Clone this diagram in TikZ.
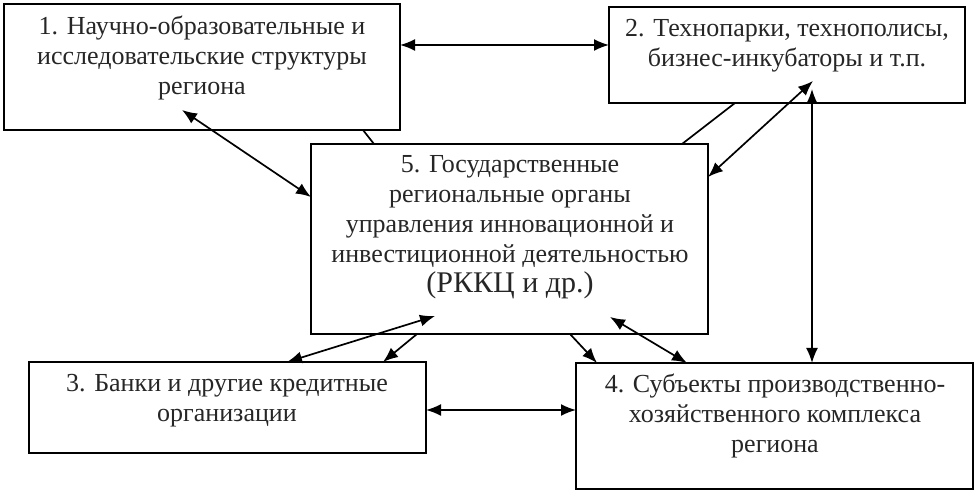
\documentclass[tikz,border=0pt]{standalone}
\usepackage{fontspec}
\setmainfont{Liberation Serif}
\usetikzlibrary{arrows.meta}
\begin{document}
\begin{tikzpicture}[x=1pt,y=-1pt,
  box/.style={draw, line width=1.8pt, inner sep=0pt, outer sep=0pt},
  txt/.style={align=center, inner sep=0pt, anchor=base, text=black!85, font=\fontsize{26}{30}\selectfont},
  conn/.style={line width=1.7pt},
  dbl/.style={conn, {Latex[length=15pt,width=12pt]}-{Latex[length=15pt,width=12pt]}},
  sgl/.style={conn, -{Latex[length=15pt,width=12pt]}}]
\useasboundingbox (0,0) rectangle (978,494);
\fill[white] (0,0) rectangle (978,494);
% boxes
\node[box, minimum width=396pt, minimum height=126pt] (b1) at (202,67) {};
\node[box, minimum width=356pt, minimum height=96pt] (b2) at (787,55) {};
\node[box, minimum width=397pt, minimum height=190pt] (b5) at (509.5,239) {};
\node[box, minimum width=397pt, minimum height=91pt] (b3) at (227.5,407.5) {};
\node[box, minimum width=397pt, minimum height=126pt] (b4) at (774.5,426) {};
% texts (anchored at the baseline of their last line)
\node[txt] (t1) at (202,95) {1. Научно-образовательные и\\исследовательские структуры\\региона};
\node[txt] (t2) at (787,67) {2. Технопарки, технополисы,\\бизнес-инкубаторы и т.п.};
\node[txt] (t5) at (510,263) {5. Государственные\\региональные органы\\управления инновационной и\\инвестиционной деятельностью};
\node[txt, font=\fontsize{30}{30}\selectfont] (t5b) at (510,293) {(РККЦ и др.)};
\node[txt] (t3) at (227,422) {3. Банки и другие кредитные\\организации};
\node[txt] (t4) at (775,453) {4. Субъекты производственно-\\хозяйственного комплекса\\региона};
% connector end points
\coordinate (p12a) at (400,45);
\coordinate (p12b) at (609,45);
\coordinate (p15a) at (182,110);
\coordinate (p15b) at (311,197);
\coordinate (q15a) at (363,130);
\coordinate (q15b) at (374,144);
\coordinate (q25a) at (735,103);
\coordinate (q25b) at (682,144);
\coordinate (p25a) at (813,81);
\coordinate (p25b) at (708,177);
\coordinate (p24a) at (812,89);
\coordinate (p24b) at (812,363);
\coordinate (p35a) at (435,316);
\coordinate (p35b) at (287,362);
\coordinate (q35a) at (417,334);
\coordinate (q35b) at (383,362);
\coordinate (q45a) at (570,334);
\coordinate (q45b) at (597,363);
\coordinate (p45a) at (610,317);
\coordinate (p45b) at (687,363);
\coordinate (p34a) at (426,410);
\coordinate (p34b) at (576,410);
% connectors
\draw[dbl] (p12a) -- (p12b);
\draw[dbl] (p15a) -- (p15b);
\draw[conn] (q15a) -- (q15b);
\draw[conn] (q25a) -- (q25b);
\draw[dbl] (p25a) -- (p25b);
\draw[dbl] (p24a) -- (p24b);
\draw[dbl] (p35a) -- (p35b);
\draw[sgl] (q35a) -- (q35b);
\draw[sgl] (q45a) -- (q45b);
\draw[dbl] (p45a) -- (p45b);
\draw[dbl] (p34a) -- (p34b);
\end{tikzpicture}
\end{document}
